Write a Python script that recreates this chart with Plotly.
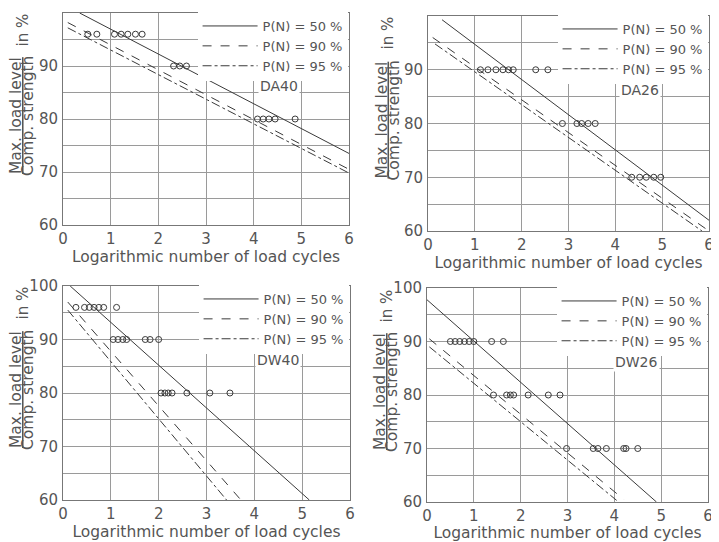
import plotly.graph_objects as go

# ---------------- data ----------------
panel_names = ["DA40", "DA26", "DW40", "DW26"]
prob_labels = ["P(N) = 50 %", "P(N) = 90 %", "P(N) = 95 %"]

# regression lines: (x_start, x_end), (y_start, y_end) for 50 %, 90 %, 95 %
DA40_lines_x = [[0.35, 6.0], [0.1, 6.0], [0.1, 6.0]]
DA40_lines_y = [[100.0, 73.5], [98.2, 70.5], [97.2, 69.8]]
DA26_lines_x = [[0.3, 6.0], [0.1, 6.0], [0.15, 5.85]]
DA26_lines_y = [[99.3, 62.0], [96.0, 60.0], [94.8, 60.0]]
DW40_lines_x = [[0.15, 5.15], [0.1, 3.72], [0.1, 3.42]]
DW40_lines_y = [[100.0, 60.0], [97.0, 60.0], [95.5, 60.0]]
DW26_lines_x = [[0.0, 4.9], [0.05, 4.2], [0.05, 4.05]]
DW26_lines_y = [[97.8, 60.0], [90.5, 60.5], [89.0, 60.3]]

# test results (log N at each load level)
DA40_pts_x = [0.52, 0.71, 1.08, 1.22, 1.36, 1.52, 1.66,
              2.32, 2.45, 2.59, 3.22, 3.39, 3.69,
              4.08, 4.2, 4.32, 4.45, 4.87]
DA40_pts_y = [96] * 7 + [90] * 6 + [80] * 5
DA26_pts_x = [1.12, 1.28, 1.45, 1.6, 1.72, 1.82, 2.3, 2.56,
              2.87, 3.18, 3.28, 3.42, 3.57,
              4.35, 4.52, 4.66, 4.82, 4.97]
DA26_pts_y = [90] * 8 + [80] * 5 + [70] * 5
DW40_pts_x = [0.27, 0.45, 0.55, 0.65, 0.75, 0.85, 1.12,
              1.05, 1.15, 1.25, 1.33, 1.72, 1.82, 2.0,
              2.05, 2.13, 2.2, 2.28, 2.59, 3.07, 3.49]
DW40_pts_y = [96] * 7 + [90] * 7 + [80] * 7
DW26_pts_x = [0.5, 0.6, 0.7, 0.8, 0.9, 1.0, 1.38, 1.63,
              1.42, 1.7, 1.78, 1.85, 2.16, 2.59, 2.84,
              2.98, 3.55, 3.65, 3.83, 4.2, 4.25, 4.5]
DW26_pts_y = [90] * 8 + [80] * 7 + [70] * 7

x_ticks = [0, 1, 2, 3, 4, 5, 6]
y_ticks = [60, 70, 80, 90, 100]

lines_x = [DA40_lines_x, DA26_lines_x, DW40_lines_x, DW26_lines_x]
lines_y = [DA40_lines_y, DA26_lines_y, DW40_lines_y, DW26_lines_y]
pts_x = [DA40_pts_x, DA26_pts_x, DW40_pts_x, DW26_pts_x]
pts_y = [DA40_pts_y, DA26_pts_y, DW40_pts_y, DW26_pts_y]

# ---------------- layout geometry ----------------
OFF = 8                      # page body margin of the html page
W, H = 719 - OFF, 542 - OFF
# plot boxes in window pixels: (left, right, top, bottom)
boxes = [(63, 349, 13, 225), (428, 709, 16, 231),
         (63, 350, 286, 500), (427, 708, 288, 502)]
dashes = ["solid", "dash", "dashdot"]

INK = "#3a3a3a"
GRID = "#9a9a9a"
TXT = "#555555"
FONT = "DejaVu Sans"


def px(v):
    return (v - OFF) / W


def py(v):
    return 1 - (v - OFF) / H


fig = go.Figure()
layout = dict(width=W, height=H,
              margin=dict(l=0, r=0, t=0, b=0, autoexpand=False),
              paper_bgcolor="white", plot_bgcolor="white", showlegend=True)
annotations = []

for i in range(4):
    l, r, t, b = boxes[i]
    xa = "xaxis" if i == 0 else f"xaxis{i+1}"
    ya = "yaxis" if i == 0 else f"yaxis{i+1}"
    xr = "x" if i == 0 else f"x{i+1}"
    yr = "y" if i == 0 else f"y{i+1}"
    lg = "legend" if i == 0 else f"legend{i+1}"

    for k in range(3):
        fig.add_trace(go.Scatter(
            x=lines_x[i][k], y=lines_y[i][k], mode="lines",
            line=dict(color=INK, width=1, dash=dashes[k]),
            name=prob_labels[k], xaxis=xr, yaxis=yr, legend=lg,
            showlegend=True))
    fig.add_trace(go.Scatter(
        x=pts_x[i], y=pts_y[i], mode="markers",
        marker=dict(symbol="circle-open", size=6, color=INK,
                    line=dict(width=1, color=INK)),
        xaxis=xr, yaxis=yr, showlegend=False))

    common = dict(showline=True, mirror=True, linecolor="#777", linewidth=1,
                  showgrid=True, gridcolor=GRID, gridwidth=1, zeroline=False,
                  automargin=False, ticks="",
                  tickfont=dict(family=FONT, size=15, color=TXT))
    layout[xa] = dict(common, domain=[px(l), px(r)], range=[0, 6],
                      tickvals=x_ticks, anchor=yr,
                      title=dict(text="Logarithmic number of load cycles",
                                 font=dict(family=FONT, size=15.5, color=TXT),
                                 standoff=0))
    layout[ya] = dict(common, domain=[py(b), py(t)], range=[60, 100],
                      tickvals=y_ticks, anchor=xr, ticklabelstandoff=1,
                      minor=dict(dtick=5, tick0=0, showgrid=True,
                                 gridcolor=GRID, gridwidth=1))
    layout[lg] = dict(x=px(r) - 0.002, y=py(t - 2), xanchor="right",
                      yanchor="top", bgcolor="white", borderwidth=0,
                      font=dict(family=FONT, size=13, color=TXT),
                      itemwidth=55, tracegroupgap=0)

    # panel label
    annotations.append(dict(text=panel_names[i], xref=f"{xr} domain",
                            yref=f"{yr} domain", x=0.83, y=0.655,
                            showarrow=False, bgcolor="white",
                            font=dict(family=FONT, size=14, color=TXT)))
    # y-axis title (fraction)
    cy = py((t + b) / 2 - 3)
    annotations.append(dict(text="<u>Max. load level</u>",
                            xref="paper", yref="paper", x=px(l - 47),
                            y=cy, xanchor="center", yanchor="middle",
                            textangle=-90, showarrow=False,
                            font=dict(family=FONT, size=15.5, color=TXT)))
    annotations.append(dict(text="Comp. strength",
                            xref="paper", yref="paper", x=px(l - 35),
                            y=cy, xanchor="center", yanchor="middle",
                            textangle=-90, showarrow=False,
                            font=dict(family=FONT, size=15.5, color=TXT)))
    annotations.append(dict(text="in %", xref="paper", yref="paper",
                            x=px(l - 41), y=py(t - 1),
                            xanchor="center", yanchor="top", textangle=-90,
                            showarrow=False,
                            font=dict(family=FONT, size=15, color=TXT)))

layout["annotations"] = annotations
fig.update_layout(**layout)
fig.write_html("out.html")
